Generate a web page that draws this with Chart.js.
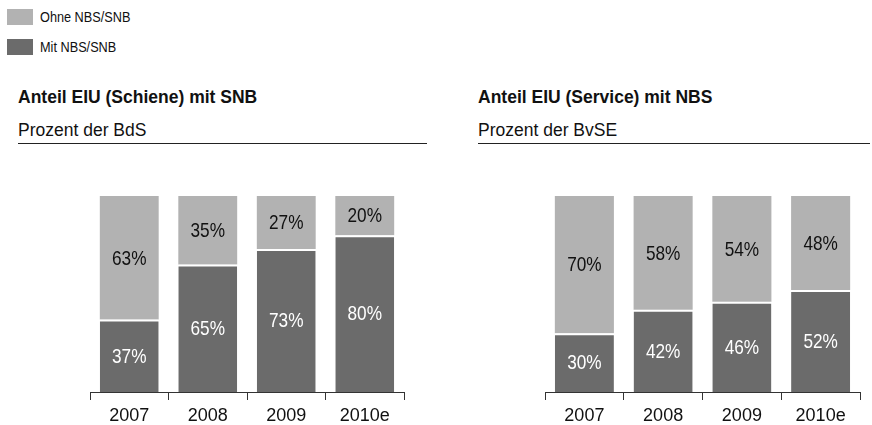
<!DOCTYPE html>
<html>
<head>
<meta charset="utf-8">
<script src="https://cdn.jsdelivr.net/npm/chart.js@4"></script>
<style>
    body { margin: 0; width: 872px; height: 425px; background: #fff; position: relative; overflow: hidden;
           font-family: "Liberation Sans", Arial, sans-serif; color: #111; }
    .legend { position: absolute; left: 7px; height: 16px; white-space: nowrap; }
    .legend .box { position: absolute; left: 0; top: 0; width: 26px; height: 16px; }
    .legend .txt { position: absolute; left: 33px; top: -1px; font-size: 15.5px; line-height: 18px; transform-origin: left center; }
    .title { position: absolute; font-weight: bold; font-size: 17.5px; }
    .sub { position: absolute; font-size: 17.5px; }
    .rule { position: absolute; height: 1px; background: #222; }
    canvas { position: absolute; }
</style>
</head>
<body>

<div class="title" style="left:18px; top:87px;">Anteil EIU (Schiene) mit SNB</div>
<div class="sub" style="left:18px; top:120px;">Prozent der BdS</div>
<div class="rule" style="left:18px; top:143px; width:409px;"></div>

<div class="title" style="left:478px; top:87px;">Anteil EIU (Service) mit NBS</div>
<div class="sub" style="left:478px; top:120px;">Prozent der BvSE</div>
<div class="rule" style="left:478px; top:143px; width:392px;"></div>

<div style="position:absolute; left:0; top:150px; width:436px; height:275px;"><canvas id="left"></canvas></div>
<div style="position:absolute; left:455px; top:150px; width:417px; height:275px;"><canvas id="right"></canvas></div>

<script>
const years = ['2007', '2008', '2009', '2010e'];
const seriesNames = ['Ohne NBS/SNB', 'Mit NBS/SNB'];

const schieneMit = [37, 65, 73, 80];
const schieneOhne = [63, 35, 27, 20];
const serviceMit = [30, 42, 46, 52];
const serviceOhne = [70, 58, 54, 48];

const lightGrey = '#b2b2b2';
const darkGrey = '#6b6b6b';
const font = '"Liberation Sans", Arial, sans-serif';

// the labels in the original use a condensed face; fall back to squeezing if it's missing
const probe = document.createElement('canvas').getContext('2d');
probe.font = '20px "Liberation Sans Narrow", monospace';
const wNarrow = probe.measureText('63% Ohne').width;
probe.font = '20px monospace';
const hasNarrow = Math.abs(wNarrow - probe.measureText('63% Ohne').width) > 0.5;
const narrowFont = hasNarrow ? '"Liberation Sans Narrow"' : font;
const squeeze = hasNarrow ? 1 : 0.82;

// legend, light series first like the original
[[seriesNames[0], lightGrey, 9], [seriesNames[1], darkGrey, 39]].forEach(([name, color, top]) => {
    const row = document.createElement('div');
    row.className = 'legend';
    row.style.top = top + 'px';
    row.innerHTML = '<span class="box" style="background:' + color + '"></span>' +
        '<span class="txt" style="font-family:' + narrowFont.replace(/"/g, "'") +
        '; transform: scaleX(' + squeeze + ')">' + name + '</span>';
    document.body.appendChild(row);
});

// percentage labels in the middle of each segment
const segmentLabels = {
    id: 'segmentLabels',
    afterDatasetsDraw(chart) {
        const ctx = chart.ctx;
        chart.data.datasets.forEach((ds, i) => {
            chart.getDatasetMeta(i).data.forEach((bar, j) => {
                const mid = (bar.y + bar.base) / 2 + 1;
                ctx.save();
                ctx.translate(bar.x, mid);
                ctx.scale(squeeze, 1);
                ctx.font = '21px ' + narrowFont;
                ctx.textAlign = 'center';
                ctx.textBaseline = 'middle';
                ctx.fillStyle = ds.labelColor;
                ctx.fillText(ds.data[j] + '%', 0, 0);
                ctx.restore();
            });
        });
    }
};

function createStackChart(canvasId, mit, ohne, padLeft, padRight) {
    const ctx = document.getElementById(canvasId);
    return new Chart(ctx, {
        type: 'bar',
        data: {
            labels: years,
            datasets: [{
                label: seriesNames[1],
                data: mit,
                backgroundColor: darkGrey,
                borderColor: '#ffffff',
                borderWidth: { top: 2, left: 0, right: 0, bottom: 0 },
                borderSkipped: false,
                labelColor: '#ffffff',
                categoryPercentage: 1,
                barPercentage: 0.75
            }, {
                label: seriesNames[0],
                data: ohne,
                backgroundColor: lightGrey,
                borderWidth: 0,
                labelColor: '#111111',
                categoryPercentage: 1,
                barPercentage: 0.75
            }]
        },
        options: {
            responsive: true,
            maintainAspectRatio: false,
            animation: false,
            layout: { padding: { left: padLeft, right: padRight, top: 46, bottom: 0 } },
            scales: {
                x: {
                    stacked: true,
                    grid: { display: true, drawOnChartArea: false, drawTicks: true, tickLength: 8, color: '#333', offset: true },
                    border: { display: true, color: '#333', width: 1 },
                    ticks: { color: '#111', font: { family: font, size: 18 }, padding: 5 },
                    afterFit: s => { s.height = 33; }
                },
                y: { stacked: true, display: false, min: 0, max: 100 }
            },
            plugins: { legend: { display: false }, tooltip: { enabled: false } }
        },
        plugins: [segmentLabels]
    });
}

createStackChart('left', schieneMit, schieneOhne, 90, 32);
createStackChart('right', serviceMit, serviceOhne, 90, 12);
</script>
</body>
</html>
